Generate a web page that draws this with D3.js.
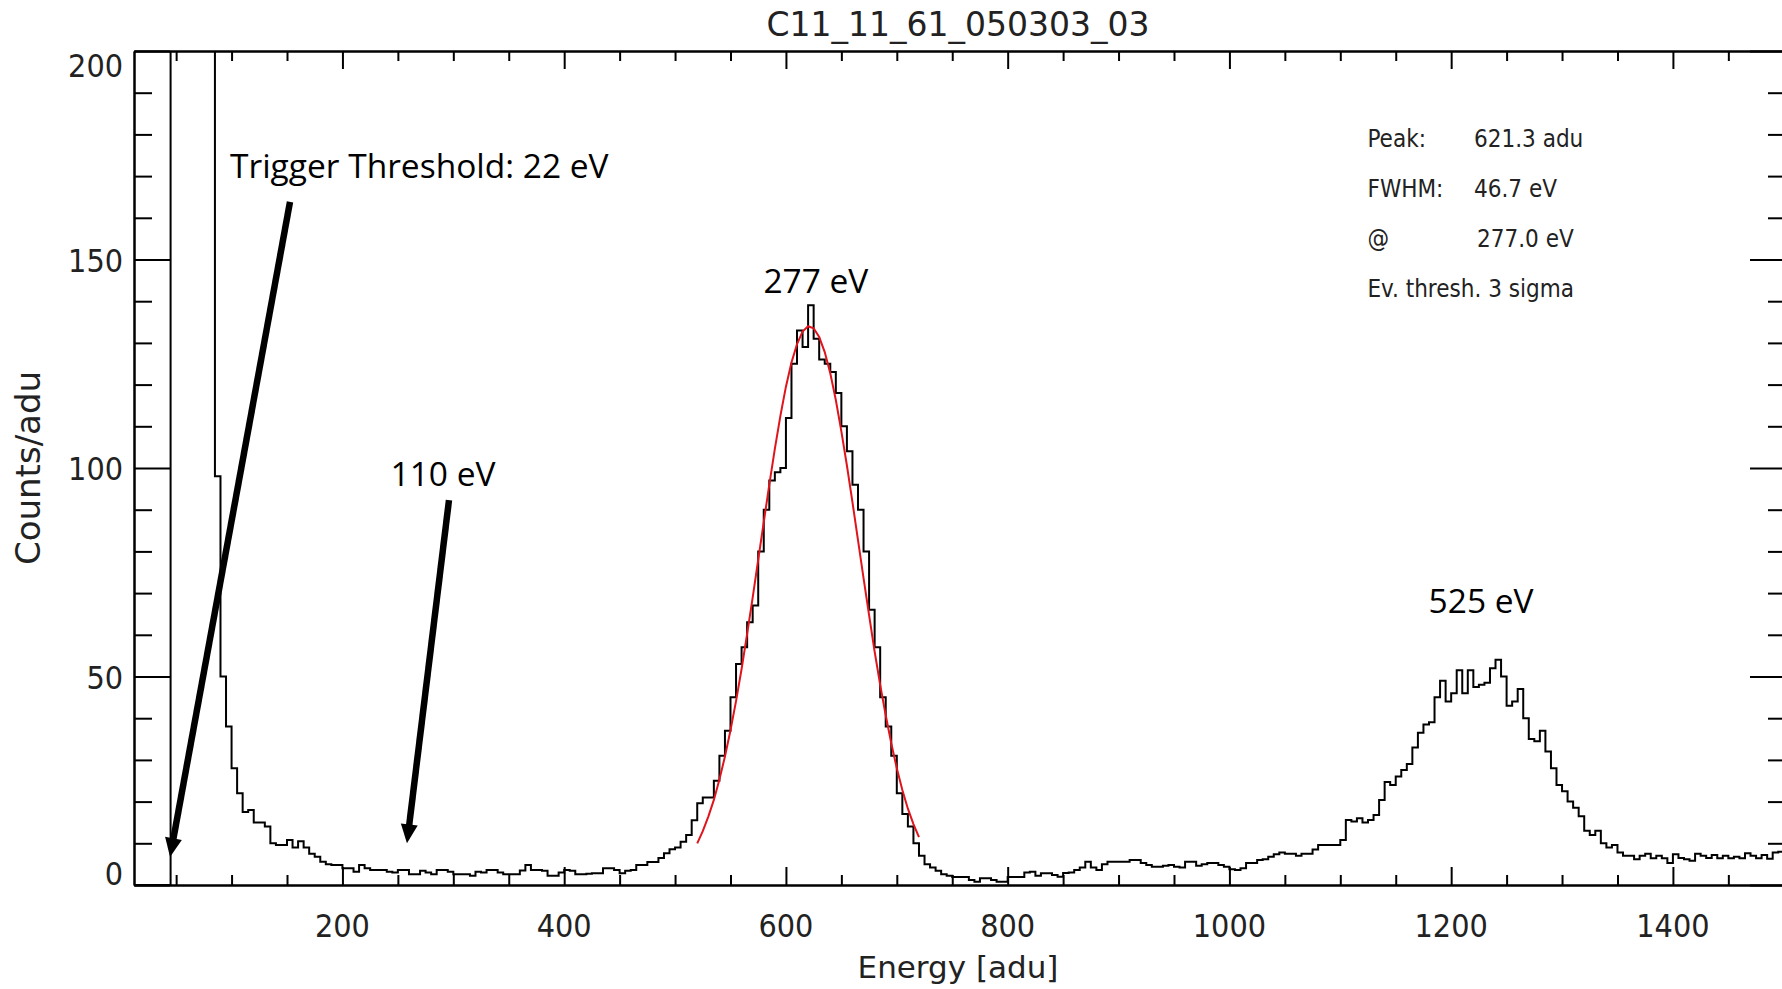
<!DOCTYPE html>
<html>
<head>
<meta charset="utf-8">
<script src="https://cdn.jsdelivr.net/npm/d3@7/dist/d3.min.js"></script>
<style>
  body { margin: 0; background: #fff; }
  .idl { font-family: "DejaVu Sans Condensed", "DejaVu Sans", sans-serif; font-stretch: condensed; fill: #222; }
  .idl-wide { font-family: "DejaVu Sans", sans-serif; fill: #222; }
  .note { font-family: "Open Sans", sans-serif; fill: #000; }
</style>
</head>
<body>
<svg id="spectrum" width="1782" height="989"></svg>
<script>
var svg = d3.select("#spectrum"),
  width = +svg.attr("width"),
  height = +svg.attr("height");

// Histogram bins, 5 adu wide from 10 adu
const binWidth = 5
const binStarts = d3.range(10, 1500, binWidth)

// Counts per bin (300 = off scale, above 200)
const countsThreshold = [
  0, 0, 0, 0, 0, 0, 0, 300, 300, 300, 300, 300, 300, 300, 300, 98,
  50, 38, 28, 22, 17.5, 18, 15, 15, 14, 10, 9.6, 9.6, 10.8, 9, 10.5, 9,
  7.5, 6.8, 5.6, 5, 4.8, 4.8, 4, 4, 3.2, 4.8, 4, 3.6, 3.6, 3.6, 3.2, 3,
  3.6, 3.6, 2.6, 2.6, 3.4, 3, 2.6, 3.6, 3.6, 3.2
]
const countsPeak277 = [
  2.6, 2.6, 2.6, 2.2, 3.2, 3, 3.6, 3.6, 3, 2.6,
  2.6, 2.6, 3.5, 4.8, 3.6, 3.6, 3.4, 2.2, 2.2, 3,
  3.6, 3.4, 2.6, 2.6, 2.7, 2.8, 2.8, 4, 4, 3.6,
  2.8, 3.4, 3.6, 4.8, 4.8, 5.5, 5.5, 6.5, 7.6, 8.6,
  9, 10.4, 12, 15.5, 19.6, 21, 21, 25, 31, 37,
  45, 53, 57, 63, 67, 80, 90, 97, 99, 100,
  112, 125, 133, 129, 139, 131, 126, 125, 123, 118,
  110, 104, 96, 90, 80, 66, 57, 45, 38, 31,
  22, 17, 14, 10, 7, 5, 4.2, 3.4, 2.6, 2.2
]
const countsValley = [
  1.9, 1.9, 1.9, 1.2, 0.8, 1.6, 1.6, 1.2, 0.8, 0.8,
  1.9, 1.9, 1.9, 3, 3.2, 2.2, 2.8, 2.8, 2.4, 2,
  2.9, 3, 3.6, 4.2, 5.6, 4.2, 3.6, 5, 5.6, 5.6,
  5.6, 5.6, 6, 6, 5.3, 4.8, 4.4, 4.4, 4.6, 4.8,
  4.4, 4.2, 5.6, 5.6, 4.6, 5, 5.3, 5.3, 4.8, 4.4,
  3.8, 3.6, 4, 5.3, 5.3, 6, 6.2, 6.8, 7.4, 7.8,
  7.5, 7.5, 7, 7.5, 7.5, 8.5, 9.6, 9.6, 9.6, 9.6
]
const countsPeak525 = [
  10.8, 15.6, 15.2, 16, 15, 15.6, 16.8, 20.4, 24.7, 24,
  26, 27.6, 29, 33, 36.5, 38.5, 39, 45, 49, 44,
  46, 51.5, 46, 51.5, 47.5, 48, 48.5, 52, 54, 50,
  43, 44, 47, 40, 35, 34.5, 37, 32, 28, 24,
  22.5, 20, 18.5, 16.5, 13, 12, 13, 10, 9, 9.6,
  7.8, 7, 7, 6.2, 7, 7.5, 6.4, 7, 6.4, 5.3,
  7.4, 6.5, 6.2, 5.8, 7.5, 7, 6.5, 7.2, 6.4, 7,
  6.4, 6.8, 6.4, 7.6, 7, 6.4, 7.2, 6.3, 7.8, 8
]
const counts = countsThreshold.concat(countsPeak277, countsValley, countsPeak525)

// Gaussian fit of the 277 eV line (red), sampled every 5 adu
const fitEnergy = d3.range(520, 725, 5)
const fitCounts = [
  10, 12.9, 16.4, 20.4, 25.3, 30.8, 37.1, 44.1, 51.8, 60.2,
  68.9, 78, 87, 96, 104.6, 112.5, 119.5, 125.3, 129.7, 132.7,
  134, 133.5, 131.4, 127.8, 122.7, 116.3, 108.8, 100.6, 91.8, 82.7,
  73.6, 64.7, 56, 48, 40.7, 34, 28, 22.8, 18.3, 14.6, 11.5
]

const xTicks = [200, 400, 600, 800, 1000, 1200, 1400]
const yTicks = [0, 50, 100, 150, 200]
const infoLabels = ["Peak:", "FWHM:", "@", "Ev. thresh. 3 sigma"]
const infoValues = ["621.3 adu", "46.7 eV", "277.0 eV", ""]
const lineLabels = [
  { text: "277 eV", e: 627, c: 142 },
  { text: "525 eV", e: 1227, c: 65.2 },
  { text: "110 eV", e: 290.7, c: 95.7 }
]

// Scales
const x = d3.scaleLinear().domain([12, 1502]).range([134, 1786])
const y = d3.scaleLinear().domain([0, 200]).range([885, 51])

svg.append("rect").attr("width", width).attr("height", height).attr("fill", "#fff")

svg.append("clipPath").attr("id", "plot-clip")
  .append("rect")
  .attr("x", x.range()[0]).attr("y", y.range()[1])
  .attr("width", x.range()[1] - x.range()[0])
  .attr("height", y.range()[0] - y.range()[1])

// Histogram as a step line
var steps = binStarts.map((b, i) => [b, counts[i]])
steps.push([1500, counts[counts.length - 1]])

svg.append("path")
  .datum(steps)
  .attr("clip-path", "url(#plot-clip)")
  .attr("fill", "none")
  .attr("stroke", "#000")
  .attr("stroke-width", 2)
  .attr("d", d3.line()
    .x(d => x(d[0]))
    .y(d => y(d[1]))
    .curve(d3.curveStepAfter))

// Fit
svg.append("path")
  .datum(fitEnergy.map((e, i) => [e, fitCounts[i]]))
  .attr("fill", "none")
  .attr("stroke", "#e0141c")
  .attr("stroke-width", 2)
  .attr("d", d3.line().x(d => x(d[0])).y(d => y(d[1])))

// Axes: majors and minors on all four sides, ticks pointing in
const xMinor = d3.range(50, 1501, 50).filter(v => v % 200 != 0)
const yMinor = d3.range(10, 200, 10).filter(v => v % 50 != 0)

function drawAxis(axis, tx, ty) {
  var g = svg.append("g")
    .attr("transform", "translate(" + tx + "," + ty + ")")
    .call(axis.tickSizeOuter(0).tickFormat(""))
  g.select(".domain").attr("stroke", "#000").attr("stroke-width", 2)
  g.selectAll(".tick line").attr("stroke", "#000").attr("stroke-width", 2)
}
drawAxis(d3.axisBottom(x).tickValues(xTicks).tickSizeInner(-18), 0, y(0))
drawAxis(d3.axisBottom(x).tickValues(xMinor).tickSizeInner(-10), 0, y(0))
drawAxis(d3.axisTop(x).tickValues(xTicks).tickSizeInner(-18), 0, y(200))
drawAxis(d3.axisTop(x).tickValues(xMinor).tickSizeInner(-10), 0, y(200))
drawAxis(d3.axisLeft(y).tickValues(yTicks).tickSizeInner(-36), x.range()[0], 0)
drawAxis(d3.axisLeft(y).tickValues(yMinor).tickSizeInner(-18), x.range()[0], 0)
drawAxis(d3.axisRight(y).tickValues(yTicks).tickSizeInner(-36), x.range()[1], 0)
drawAxis(d3.axisRight(y).tickValues(yMinor).tickSizeInner(-18), x.range()[1], 0)

// Tick labels
svg.append("g").selectAll("text")
  .data(xTicks)
  .join("text")
  .attr("class", "idl")
  .attr("x", d => x(d))
  .attr("y", y(0) + 52)
  .attr("text-anchor", "middle")
  .attr("font-size", 32)
  .text(d => d)

svg.append("g").selectAll("text")
  .data(yTicks)
  .join("text")
  .attr("class", "idl")
  .attr("x", x.range()[0] - 11)
  .attr("y", d => d == 200 ? y(d) + 26 : d == 0 ? y(d) : y(d) + 12)
  .attr("text-anchor", "end")
  .attr("font-size", 32)
  .text(d => d)

// Titles
svg.append("text").attr("class", "idl-wide")
  .attr("x", 958).attr("y", 36)
  .attr("text-anchor", "middle").attr("font-size", 33)
  .text("C11_11_61_050303_03")

svg.append("text").attr("class", "idl-wide")
  .attr("x", 958).attr("y", 978)
  .attr("text-anchor", "middle").attr("font-size", 31)
  .text("Energy [adu]")

svg.append("text").attr("class", "idl-wide")
  .attr("transform", "translate(40,468) rotate(-90)")
  .attr("text-anchor", "middle").attr("font-size", 34)
  .text("Counts/adu")

// Fit info
infoLabels.forEach(function (t, i) {
  svg.append("text").attr("class", "idl")
    .attr("x", x(1124.5)).attr("y", y(177 - 12 * i))
    .attr("font-size", 24)
    .text(t)
  svg.append("text").attr("class", "idl")
    .attr("x", x(1220.6) + (i == 2 ? 3 : 0)).attr("y", y(177 - 12 * i))
    .attr("font-size", 24)
    .text(infoValues[i])
})

// Hand-written annotations
lineLabels.forEach(function (l) {
  svg.append("text").attr("class", "note")
    .attr("x", x(l.e)).attr("y", y(l.c))
    .attr("text-anchor", "middle").attr("font-size", 33.5)
    .text(l.text)
})
svg.append("text").attr("class", "note")
  .attr("x", x(98.6)).attr("y", y(169.5)).attr("font-size", 33.5)
  .text("Trigger Threshold: 22 eV")

function arrow(e0, c0, e1, c1) {
  var x0 = x(e0), y0 = y(c0), x1 = x(e1), y1 = y(c1)
  var len = Math.hypot(x1 - x0, y1 - y0)
  var ux = (x1 - x0) / len, uy = (y1 - y0) / len
  var head = 19, half = 8.5
  var bx = x1 - ux * head, by = y1 - uy * head
  svg.append("line")
    .attr("x1", x0).attr("y1", y0).attr("x2", bx + ux * 2).attr("y2", by + uy * 2)
    .attr("stroke", "#000").attr("stroke-width", 6.5)
  svg.append("polygon")
    .attr("points", [[x1, y1], [bx - uy * half, by + ux * half], [bx + uy * half, by - ux * half]].join(" "))
    .attr("fill", "#000")
}
arrow(152.7, 163.8, 44.5, 6.7)
arrow(296.1, 92.3, 258.2, 10)
</script>
</body>
</html>
